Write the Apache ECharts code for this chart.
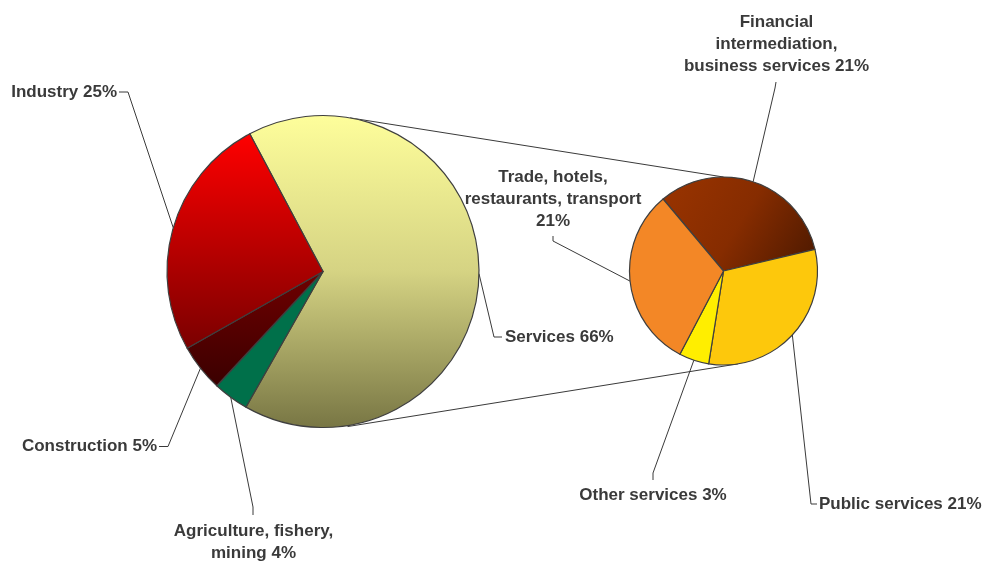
<!DOCTYPE html>
<html><head><meta charset="utf-8">
<script src="https://cdn.jsdelivr.net/npm/echarts@6/dist/echarts.min.js"></script>
<style>html,body{margin:0;padding:0;background:#fff}#c{width:986px;height:562px}</style>
</head><body><div id="c"></div>
<script>
// ---- data ----
const mainCategories = ['Services', 'Agriculture, fishery,\nmining', 'Construction', 'Industry'];
const mainValues = [66, 3.7, 4.9, 25.4];
const mainSeparators = [' ', ' ', ' ', ' '];
const serviceCategories = ['Financial\nintermediation,\nbusiness services', 'Public services', 'Other services', 'Trade, hotels,\nrestaurants, transport'];
const serviceValues = [21.4, 20.6, 3.4, 20.6];
const serviceSeparators = [' ', ' ', ' ', '\n'];

// ---- geometry / style ----
const MAIN_C = [323, 271.5], MAIN_R = 156, MAIN_START = 118;
const SUB_C = [723.5, 271], SUB_R = 94, SUB_START = 130;
const TEXT = '#3a3a3a';
const BORDER = '#3f3f3f';
const lg = (x, y, x2, y2, stops) => new echarts.graphic.LinearGradient(x, y, x2, y2, stops.map((c, i) => ({offset: i / (stops.length - 1), color: c})));
const mainColors = [
  lg(0, 0, 0, 1, ['#FEFE9B', '#D5D383', '#787644']),
  '#00704A',
  lg(0, 0, 0, 1, ['#700000', '#3A0000']),
  lg(0, 0, 0, 1, ['#FF0000', '#7A0000'])
];
const serviceColors = [
  lg(0, 0, 1, 1, ['#9A3400', '#862C00', '#4A1800']),
  '#FDC80C',
  '#FFEE00',
  '#F38726'
];
const mainLabelLayout = [
  {x: 505, y: 337, align: 'left', v: 'middle', bend: [[494, 337], [502, 337]]},
  {x: 253.5, y: 520, align: 'center', v: 'top', bend: [[253, 507], [253, 515]]},
  {x: 157, y: 446.5, align: 'right', v: 'middle', bend: [[168, 446.5], [159, 446.5]]},
  {x: 117, y: 92, align: 'right', v: 'middle', bend: [[128, 92], [119, 92]]}
];
const serviceLabelLayout = [
  {x: 776.5, y: 11.5, align: 'center', v: 'top', bend: [[775, 88], [776, 82]]},
  {x: 819, y: 504, align: 'left', v: 'middle', bend: [[811, 504], [817, 504]]},
  {x: 653, y: 495, align: 'center', v: 'middle', bend: [[653, 473], [653, 480]]},
  {x: 553, y: 166, align: 'center', v: 'top', bend: [[553, 241], [553, 236]]}
];

function midPoint(values, idx, start, c, r) {
  const total = values.reduce((a, b) => a + b, 0);
  let cum = 0;
  for (let i = 0; i < idx; i++) cum += values[i];
  const a = (start - (cum + values[idx] / 2) / total * 360) * Math.PI / 180;
  return [c[0] + r * Math.cos(a), c[1] - r * Math.sin(a)];
}
function polar(c, r, degCW) {
  const a = degCW * Math.PI / 180;
  return [c[0] + r * Math.sin(a), c[1] - r * Math.cos(a)];
}
function makeSeries(cats, vals, seps, colors, layout, c, r, start) {
  return {
    type: 'pie',
    center: c,
    radius: r,
    startAngle: start,
    clockwise: true,
    avoidLabelOverlap: false,
    animation: false,
    emphasis: {disabled: true},
    itemStyle: {borderColor: BORDER, borderWidth: 1.2},
    label: {
      show: true,
      position: 'outside',
      color: TEXT,
      fontFamily: "'Liberation Sans', Arial, sans-serif",
      fontWeight: 'bold',
      fontSize: 17,
      lineHeight: 22,
      overflow: 'none',
      bleedMargin: 0,
      formatter: p => p.name + seps[p.dataIndex] + Math.round(p.value) + '%'
    },
    labelLine: {show: true, smooth: false, lineStyle: {color: TEXT, width: 1}},
    labelLayout: params => {
      const L = layout[params.dataIndex];
      const p0 = midPoint(vals, params.dataIndex, start, c, r);
      return {x: L.x, y: L.y, align: L.align, verticalAlign: L.v, labelLinePoints: [p0, L.bend[0], L.bend[1]]};
    },
    data: cats.map((n, i) => ({name: n, value: vals[i], itemStyle: {color: colors[i]}}))
  };
}

const t1 = polar(MAIN_C, MAIN_R, 10), t2 = polar(SUB_C, SUB_R, 0);
const b1 = polar(MAIN_C, MAIN_R + 1, 171), b2 = polar(SUB_C, SUB_R, 171);

const chart = echarts.init(document.getElementById('c'), null, {renderer: 'canvas'});
chart.setOption({
  backgroundColor: '#ffffff',
  animation: false,
  graphic: [
    {type: 'line', z: 0, shape: {x1: t1[0], y1: t1[1], x2: t2[0], y2: t2[1]}, style: {stroke: TEXT, lineWidth: 1}},
    {type: 'line', z: 0, shape: {x1: b1[0], y1: b1[1], x2: b2[0], y2: b2[1]}, style: {stroke: TEXT, lineWidth: 1}}
  ],
  series: [
    makeSeries(mainCategories, mainValues, mainSeparators, mainColors, mainLabelLayout, MAIN_C, MAIN_R, MAIN_START),
    makeSeries(serviceCategories, serviceValues, serviceSeparators, serviceColors, serviceLabelLayout, SUB_C, SUB_R, SUB_START)
  ]
});
</script>
</body></html>
